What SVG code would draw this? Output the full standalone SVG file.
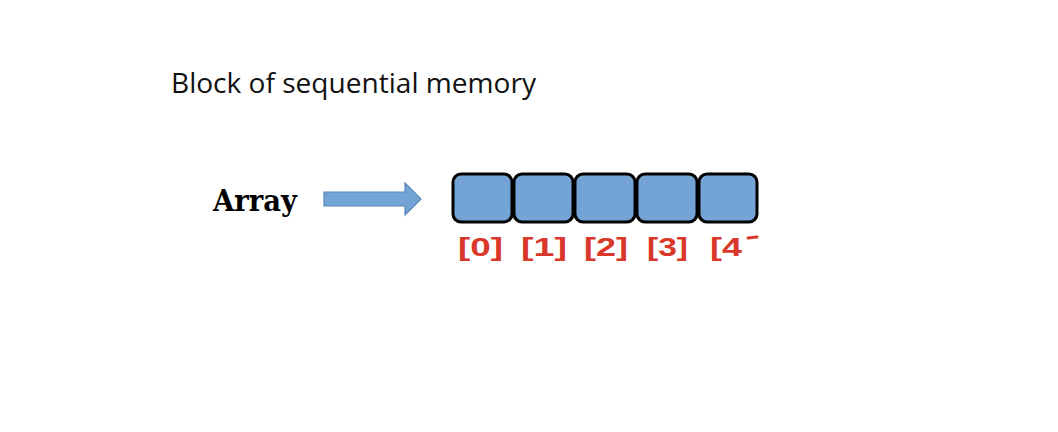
<svg xmlns="http://www.w3.org/2000/svg" width="1058" height="432" viewBox="0 0 1058 432">
<style>
.cell{fill:#74a4d6;stroke:#000;stroke-width:3}
.idx{font-family:"Liberation Sans",sans-serif;font-size:25px;fill:#d9372a;font-weight:bold}
</style>
<rect width="1058" height="432" fill="#fff"/>
<text x="171" y="93" font-family="Open Sans, sans-serif" font-size="27" fill="#111" textLength="365" lengthAdjust="spacingAndGlyphs">Block of sequential memory</text>
<g id="label"><text x="213" y="211" font-family="DejaVu Serif, serif" font-weight="bold" font-size="29" fill="#000" textLength="84" lengthAdjust="spacingAndGlyphs">Array</text></g>
<g id="connectors"><path d="M324,192 H405 V183 L421,199 L405,215 V206 H324 Z" fill="#74a4d6" stroke="#5a86b6" stroke-width="1.2"/></g>
<g id="cell0"><rect class="cell" x="453" y="174" width="59" height="48" rx="8"/><text class="idx" x="458" y="256" textLength="45" lengthAdjust="spacingAndGlyphs">[0]</text></g>
<g id="cell1"><rect class="cell" x="514" y="174" width="59" height="48" rx="8"/><text class="idx" x="521" y="256" textLength="46" lengthAdjust="spacingAndGlyphs">[1]</text></g>
<g id="cell2"><rect class="cell" x="575" y="174" width="60" height="48" rx="8"/><text class="idx" x="584" y="256" textLength="44" lengthAdjust="spacingAndGlyphs">[2]</text></g>
<g id="cell3"><rect class="cell" x="637" y="174" width="60" height="48" rx="8"/><text class="idx" x="647" y="256" textLength="41" lengthAdjust="spacingAndGlyphs">[3]</text></g>
<g id="cell4"><rect class="cell" x="699" y="174" width="58" height="48" rx="8"/><text class="idx" x="710" y="256" textLength="32" lengthAdjust="spacingAndGlyphs">[4</text><line x1="748" y1="238" x2="757" y2="237" stroke="#d9372a" stroke-width="3" stroke-linecap="round"/></g>
</svg>
